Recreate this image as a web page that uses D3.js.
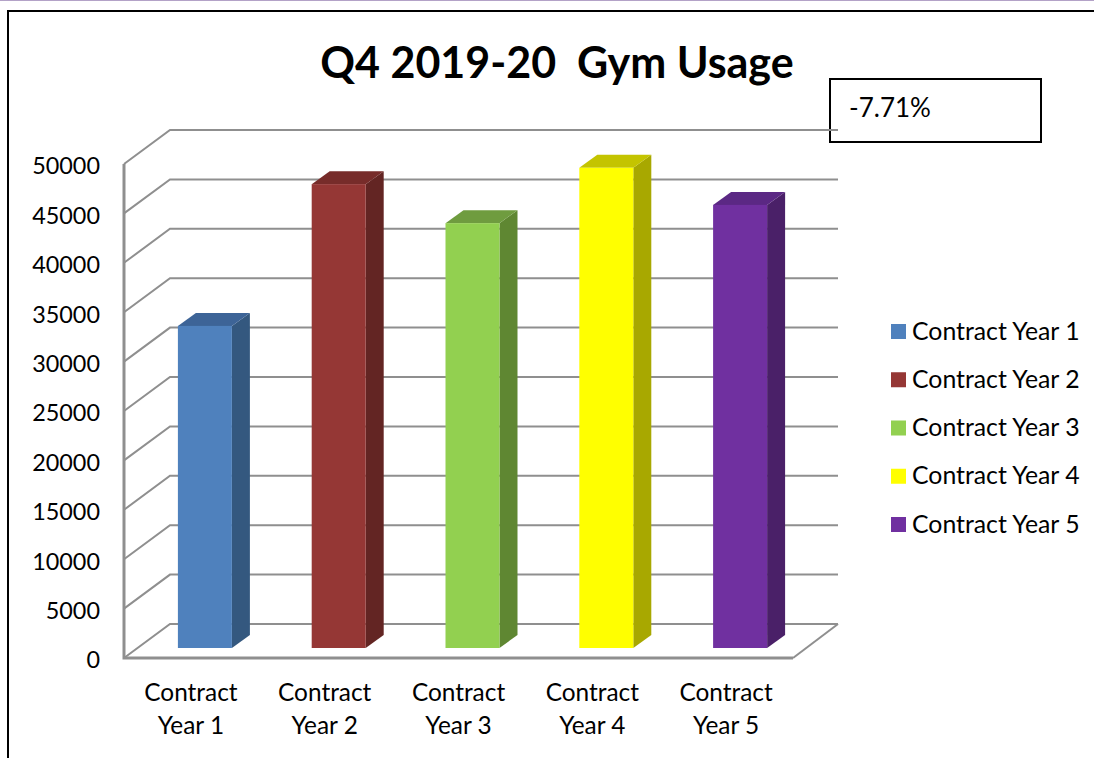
<!DOCTYPE html>
<html>
<head>
<meta charset="utf-8">
<script src="https://cdn.jsdelivr.net/npm/d3@7"></script>
<style>
    html, body { margin: 0; padding: 0; background: #fff; overflow: hidden; }
    svg { display: block; }
    text { font-family: Lato, "Open Sans", sans-serif; fill: #000; white-space: pre; }
</style>
</head>
<body>
<div id="chart"></div>
<script>
const categories = ["Contract Year 1", "Contract Year 2", "Contract Year 3", "Contract Year 4", "Contract Year 5"];
const usage = [32600, 46950, 43000, 48600, 44850];
const tickValues = [0, 5000, 10000, 15000, 20000, 25000, 30000, 35000, 40000, 45000, 50000];
const frontColors = ["#4f81bd", "#953735", "#92d050", "#ffff00", "#7030a0"];
const sideColors = ["#34587f", "#632523", "#5f8732", "#a8a800", "#4a2068"];
const topColors = ["#3d6497", "#772c2a", "#6f9c3f", "#c4c400", "#5b2884"];
const titleText = "Q4 2019-20  Gym Usage";
const noteText = "-7.71%";

const width = 1094,
    height = 758,
    wallDx = 46,
    wallDy = 34,
    barDx = 18,
    barDy = 13,
    barLift = 10,
    barShift = 14,
    barWidth = 54,
    gridColor = "#8f8f8f";

const svg = d3.select("#chart")
    .append("svg")
    .attr("width", width)
    .attr("height", height);

const x = d3.scaleBand()
    .domain(categories)
    .range([124, 793]);

const y = d3.scaleLinear()
    .domain([0, 50000])
    .range([658, 164]);

// page rule and outer frame
svg.append("line")
    .attr("x1", 0).attr("x2", width)
    .attr("y1", 0.5).attr("y2", 0.5)
    .attr("stroke", "#b3a2c7");

svg.append("path")
    .attr("d", `M8,${height}V11H${width}`)
    .attr("fill", "none")
    .attr("stroke", "#000")
    .attr("stroke-width", 2);

// note box, the top gridline runs over its left edge
svg.append("rect")
    .attr("x", 830).attr("y", 79)
    .attr("width", 211).attr("height", 63)
    .attr("fill", "#fff")
    .attr("stroke", "#000")
    .attr("stroke-width", 2);

svg.append("text")
    .attr("x", 849).attr("y", 117)
    .attr("font-size", 26)
    .text(noteText);

svg.append("text")
    .attr("x", 557).attr("y", 78)
    .attr("text-anchor", "middle")
    .attr("font-size", 43)
    .attr("font-weight", "bold")
    .text(titleText);

// walls: each gridline goes up the side wall then along the back
svg.append("g")
    .selectAll("path")
    .data(tickValues)
    .join("path")
    .attr("fill", "none")
    .attr("stroke", gridColor)
    .attr("stroke-width", 2)
    .attr("d", d => `M${x.range()[0]},${y(d)}l${wallDx},${-wallDy}H838`);

// floor front edge and side, and the left wall edge
svg.append("path")
    .attr("fill", "none")
    .attr("stroke", gridColor)
    .attr("stroke-width", 3)
    .attr("d", `M${x.range()[0]},${y(50000)}V${y(0)}H${x.range()[1]}`);

svg.append("path")
    .attr("fill", "none")
    .attr("stroke", gridColor)
    .attr("stroke-width", 2)
    .attr("d", `M${x.range()[1]},${y(0)}l${wallDx - 1},${-wallDy}`);

// bars
const bars = svg.append("g")
    .selectAll("g")
    .data(categories)
    .join("g");

const barLeft = d => x(d) + (x.bandwidth() - barWidth) / 2 + barShift;
const barTop = (d, i) => y(usage[i]) - barLift;

bars.append("path")
    .attr("fill", (d, i) => sideColors[i])
    .attr("d", (d, i) => {
        const r = barLeft(d) + barWidth;
        return `M${r},${barTop(d, i)}l${barDx},${-barDy}V${y(0) - barLift - barDy}l${-barDx},${barDy}Z`;
    });

bars.append("path")
    .attr("fill", (d, i) => topColors[i])
    .attr("d", (d, i) => `M${barLeft(d)},${barTop(d, i)}l${barDx},${-barDy}h${barWidth}l${-barDx},${barDy}Z`);

bars.append("rect")
    .attr("x", barLeft)
    .attr("y", barTop)
    .attr("width", barWidth)
    .attr("height", (d, i) => y(0) - barLift - barTop(d, i))
    .attr("fill", (d, i) => frontColors[i]);

// axes
const yAxis = d3.axisLeft(y).tickValues(tickValues).tickSize(0).tickPadding(0).tickFormat(d3.format("d"));
const yAxisGroup = svg.append("g")
    .attr("transform", "translate(100, 0)")
    .call(yAxis);
yAxisGroup.select(".domain").remove();
yAxisGroup.selectAll("text")
    .attr("font-size", 23.4)
    .style("font-family", "Lato, 'Open Sans', sans-serif")
    .attr("dy", "0.42em");

const xAxis = d3.axisBottom(x).tickSize(0).tickPadding(0);
const xAxisGroup = svg.append("g")
    .attr("transform", "translate(0, 658)")
    .call(xAxis);
xAxisGroup.select(".domain").remove();
xAxisGroup.selectAll("text").each(function (d) {
    const parts = d.split(" ");
    const label = d3.select(this)
        .attr("font-size", 24.4)
        .style("font-family", "Lato, 'Open Sans', sans-serif")
        .attr("y", 0)
        .attr("dy", null)
        .text(null);
    label.append("tspan").attr("x", 0).attr("y", 43).text(parts[0]);
    label.append("tspan").attr("x", 0).attr("y", 76).text(parts.slice(1).join(" "));
});

// legend
const legendY = d3.scalePoint()
    .domain(categories)
    .range([331.5, 524.5]);

const legend = svg.append("g")
    .selectAll("g")
    .data(categories)
    .join("g")
    .attr("transform", d => `translate(891, ${legendY(d)})`);

legend.append("rect")
    .attr("y", -7.5)
    .attr("width", 15)
    .attr("height", 15)
    .attr("fill", (d, i) => frontColors[i]);

legend.append("text")
    .attr("x", 21)
    .attr("y", 8)
    .attr("font-size", 24.8)
    .text(d => d);
</script>
</body>
</html>
